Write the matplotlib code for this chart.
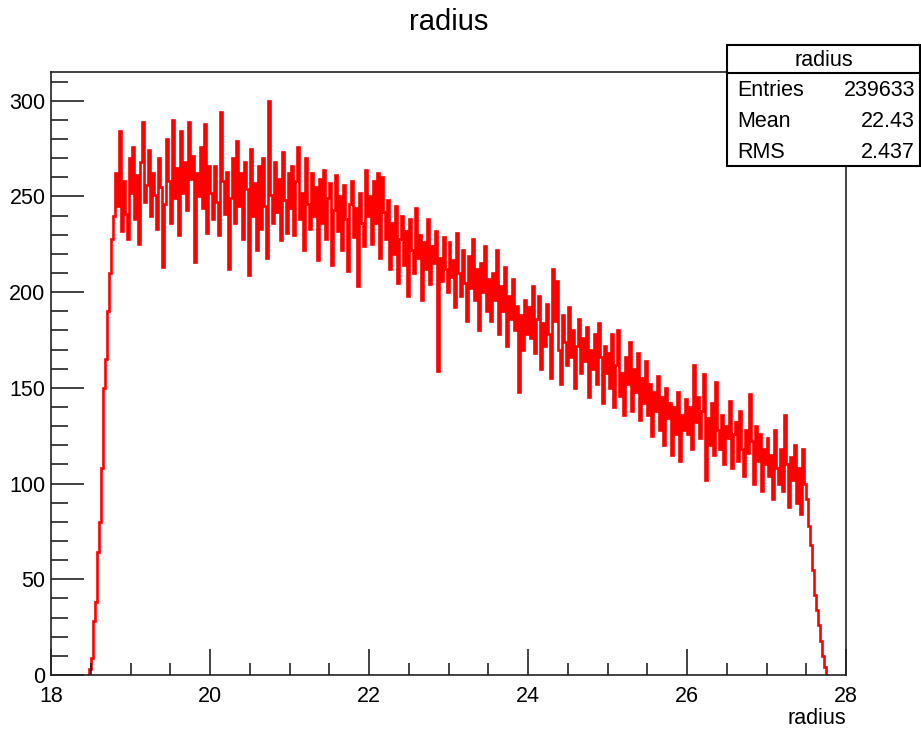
import numpy as np
import matplotlib
matplotlib.use("Agg")
import matplotlib.pyplot as plt
from matplotlib.patches import Rectangle

plt.rcParams["font.family"] = ["Liberation Sans", "DejaVu Sans"]

# histogram: bin width 0.025, first bin starts at 18.45
bin_start = 18.45
bin_width = 0.025
counts = [
    # 18.45 - 18.80 rise
    0, 3, 9, 28, 38, 64, 80, 108, 150, 165, 190, 210, 228, 240,
    # 18.8 - 20.0
    262, 245, 284, 232, 258, 241, 228, 270, 252, 276, 238, 261, 225, 268, 289, 247,
    256, 274, 240, 262, 251, 233, 270, 255, 213, 246, 280, 258, 236, 290, 249, 265,
    230, 284, 252, 268, 243, 289, 259, 271, 216, 262, 250, 276, 244, 288, 231, 266,
    # 20.0 - 21.0
    252, 238, 266, 247, 230, 294, 258, 241, 263, 212, 249, 270, 236, 279, 245, 262,
    228, 268, 254, 209, 275, 240, 257, 222, 266, 233, 270, 245, 218, 300, 251, 236,
    268, 242, 259, 227, 273, 248, 231, 262,
    # 21.0 - 22.0
    244, 266, 230, 258, 276, 238, 252, 222, 270, 246, 233, 262, 240, 255, 217, 259,
    236, 264, 228, 249, 257, 214, 243, 261, 232, 250, 222, 256, 238, 211, 246, 258,
    229, 244, 203, 252, 236, 224, 264, 240,
    # 22.0 - 23.0
    250, 225, 258, 236, 262, 218, 260, 242, 228, 248, 212, 236, 220, 245, 205, 228,
    240, 214, 232, 198, 238, 222, 210, 244, 218, 230, 196, 226, 212, 238, 204, 224,
    215, 232, 159, 218, 206, 229, 212, 200,
    # 23.0 - 24.0
    226, 208, 217, 192, 231, 210, 198, 222, 205, 185, 219, 202, 228, 196, 212, 180,
    215, 200, 224, 190, 207, 185, 210, 196, 222, 178, 203, 190, 213, 172, 198, 186,
    207, 180, 193, 148, 188, 170, 196, 178,
    # 24.0 - 25.0
    192, 176, 203, 168, 186, 198, 160, 184, 172, 194, 178, 155, 212, 185, 206, 170,
    152, 188, 174, 162, 192, 166, 180, 150, 172, 186, 158, 176, 164, 182, 145, 170,
    160, 178, 152, 184, 166, 142, 172, 158,
    # 25.0 - 26.0
    168, 150, 178, 140, 162, 180, 146, 158, 136, 166, 152, 174, 138, 160, 148, 168,
    133, 155, 142, 164, 136, 152, 125, 148, 138, 156, 128, 145, 120, 150, 134, 142,
    115, 140, 126, 148, 112, 136, 128, 144,
    # 26.0 - 27.0
    126, 140, 118, 162, 132, 145, 124, 138, 157, 102, 134, 120, 142, 115, 153, 128,
    118, 136, 110, 130, 124, 143, 108, 126, 132, 112, 138, 118, 104, 128, 116, 147,
    122, 100, 130, 112, 126, 96, 118, 110,
    # 27.0 - 27.775 fall
    124, 104, 115, 92, 128, 108, 100, 118, 96, 136, 110, 88, 114, 102, 120, 90,
    108, 84, 118, 100, 92, 78, 68, 55, 42, 34, 26, 18, 10, 4, 0,
]

x_ticks = [18, 20, 22, 24, 26, 28]
y_ticks = [0, 50, 100, 150, 200, 250, 300]

stats_names = ["Entries", "Mean", "RMS"]
stats_values = ["239633", "22.43", "2.437"]

W, H = 921, 731
fig = plt.figure(figsize=(W / 100, H / 100), dpi=100)
ax = fig.add_axes([51 / W, 1 - 675 / H, 795 / W, 603 / H])

edges = bin_start + bin_width * np.arange(len(counts) + 1)
ax.stairs(counts, edges, color="#ff0000", linewidth=1.9, baseline=None)

ax.set_xlim(18, 28)
ax.set_ylim(0, 315)
ax.set_xticks(x_ticks)
ax.set_xticks(np.arange(18, 28.01, 0.5), minor=True)
ax.set_yticks(y_ticks)
ax.set_yticks(np.arange(0, 311, 10), minor=True)
ax.tick_params(axis="both", which="both", direction="in", labelsize=15.5,
               color="#222222", width=1.2)
ax.tick_params(axis="y", which="major", length=24, pad=4)
ax.tick_params(axis="y", which="minor", length=12)
ax.tick_params(axis="x", which="major", length=19, pad=8)
ax.tick_params(axis="x", which="minor", length=9)
for s in ax.spines.values():
    s.set_linewidth(1.2)
    s.set_color("#222222")

# axis title and histogram title
fig.text(846 / W, 1 - 718 / H, "radius", fontsize=15.5, ha="right", va="center")
fig.text(449 / W, 1 - 22 / H, "radius", fontsize=21, ha="center", va="center")

# stats box
bx0, bx1, by0, by1 = 727, 920, 45, 166
fig.patches.append(Rectangle((bx0 / W, 1 - by1 / H), (bx1 - bx0) / W,
                             (by1 - by0) / H, transform=fig.transFigure,
                             facecolor="white", edgecolor="black",
                             linewidth=1.5, zorder=5))
fig.lines.append(plt.Line2D([bx0 / W, bx1 / W], [1 - 73 / H, 1 - 73 / H],
                            transform=fig.transFigure, color="black",
                            linewidth=1.5, zorder=6))
fig.text((bx0 + bx1) / 2 / W, 1 - 60 / H, "radius", fontsize=15.5,
         ha="center", va="center", zorder=7)
for i, (name, val) in enumerate(zip(stats_names, stats_values)):
    yy = 1 - (91 + 30.5 * i) / H
    fig.text(737 / W, yy, name, fontsize=15.5, ha="left", va="center", zorder=7)
    fig.text(915 / W, yy, val, fontsize=15.5, ha="right", va="center", zorder=7)

fig.savefig("out.png", dpi=100)
